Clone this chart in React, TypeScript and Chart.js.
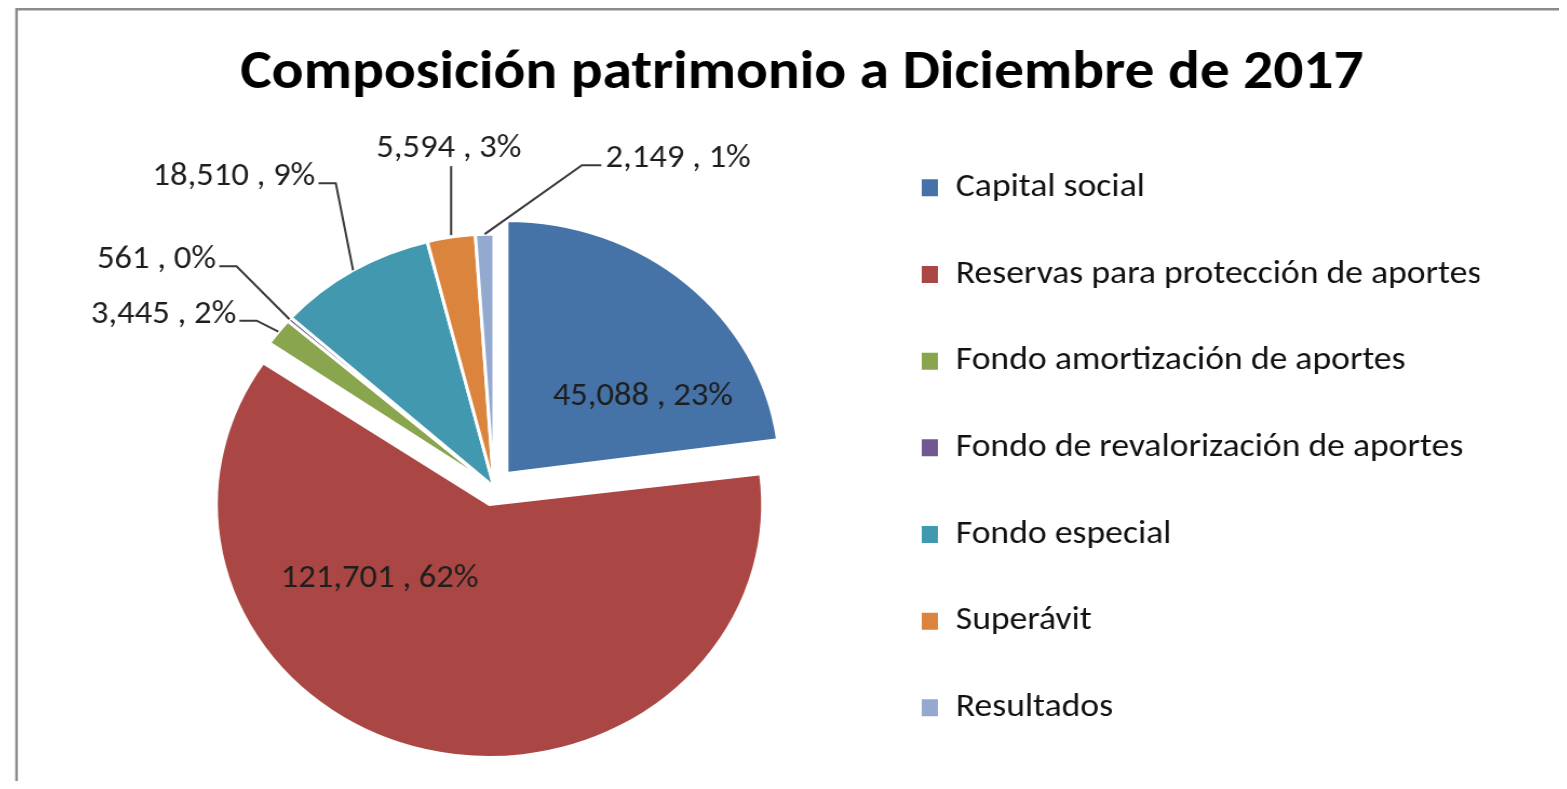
import React, { useEffect, useRef } from 'react';
import { Chart, registerables } from 'chart.js';

Chart.register(...registerables);

// ---------- data ----------
const chartTitle = 'Composición patrimonio a Diciembre de 2017';
const categories = [
  'Capital social',
  'Reservas para protección de aportes',
  'Fondo amortización de aportes',
  'Fondo de revalorización de aportes',
  'Fondo especial',
  'Superávit',
  'Resultados',
];
const values = [45088, 121701, 3445, 561, 18510, 5594, 2149];
const colors = ['#4572A7', '#AA4643', '#89A54E', '#71588F', '#4198AF', '#DB843D', '#93A9CF'];
// exploded distance (visual pixels) per slice
const explodePx = [18, 18, 0, 0, 0, 0, 0];

// ---------- label placement (layout only) ----------
type Placement =
  | { kind: 'inside'; radial: number; dx: number; dy: number }
  | { kind: 'left' | 'right' | 'top'; dx: number; dy: number };
const labelPlacement: Placement[] = [
  { kind: 'inside', radial: 0.6, dx: 26, dy: 38 },
  { kind: 'inside', radial: 0.5, dx: -72, dy: -48 },
  { kind: 'left', dx: -39, dy: -17 },
  { kind: 'left', dx: -68, dy: -59 },
  { kind: 'left', dx: -35, dy: -93 },
  { kind: 'top', dx: -2, dy: -88 },
  { kind: 'right', dx: 112, dy: -75 },
];

const FONT = 'Calibri, Carlito, Lato, "Open Sans", sans-serif';
const CANVAS_W = 1436;
const CANVAS_H = 773;
const STRETCH = 1551 / CANVAS_W;
const PIE_RADIUS = 253;
const LEGEND_FS = 33;
const LABEL_FS = 32;
const ITEM_STEP = 86.67;
const LEGEND_PAD = ITEM_STEP - LEGEND_FS;
const BOX_W = 15;
const BOX_H = 17;
const BOX_LEFT = 846;
const LEGEND_LEFT = BOX_LEFT - LEGEND_PAD;
const PIE_CX = 450;
const PAD_LEFT = 2 * PIE_CX - LEGEND_LEFT;
const TITLE_CX = 735;

const total = values.reduce((a, b) => a + b, 0);
const fmt = (v: number) => v.toLocaleString('en-US');
const labelText = (i: number) => `${fmt(values[i])} , ${Math.round((values[i] / total) * 100)}%`;

const framePlugin = {
  id: 'frame',
  beforeDraw(chart: any) {
    const ctx = chart.ctx;
    ctx.save();
    ctx.strokeStyle = '#8c8c8c';
    ctx.lineWidth = 2.4;
    ctx.beginPath();
    ctx.moveTo(7.9, chart.height);
    ctx.lineTo(7.9, 1.2);
    ctx.lineTo(chart.width, 1.2);
    ctx.stroke();
    ctx.restore();
  },
};

// keep exploded large slices at the common radius (Chart.js grows radius for wide arcs)
const explodeFixPlugin = {
  id: 'explodeFix',
  afterDatasetUpdate(chart: any, args: any) {
    const meta = args.meta;
    meta.data.forEach((arc: any, i: number) => {
      const circ = arc.endAngle - arc.startAngle;
      const fix = 1 - Math.sin(Math.min(Math.PI, circ));
      arc.outerRadius = PIE_RADIUS - explodePx[i] * fix;
    });
  },
};

const labelPlugin = {
  id: 'sliceLabels',
  afterDatasetsDraw(chart: any) {
    const ctx = chart.ctx;
    const meta = chart.getDatasetMeta(0);
    ctx.save();
    ctx.font = `${LABEL_FS}px ${FONT}`;
    ctx.fillStyle = '#1e1e1e';
    ctx.strokeStyle = '#3a3a3a';
    ctx.lineWidth = 2;
    ctx.textBaseline = 'middle';
    meta.data.forEach((arc: any, i: number) => {
      const { x, y, startAngle, endAngle } = arc.getProps(['x', 'y', 'startAngle', 'endAngle'], true);
      const mid = (startAngle + endAngle) / 2;
      const cx = x + Math.cos(mid) * explodePx[i];
      const cy = y + Math.sin(mid) * explodePx[i];
      const p = labelPlacement[i];
      const text = labelText(i);
      if (p.kind === 'inside') {
        const r = PIE_RADIUS * p.radial;
        ctx.textAlign = 'center';
        ctx.fillText(text, cx + Math.cos(mid) * r + p.dx, cy + Math.sin(mid) * r + p.dy);
        return;
      }
      const ax = cx + Math.cos(mid) * PIE_RADIUS;
      const ay = cy + Math.sin(mid) * PIE_RADIUS;
      const tx = ax + p.dx;
      const ty = ay + p.dy;
      ctx.beginPath();
      if (p.kind === 'top') {
        ctx.textAlign = 'center';
        ctx.fillText(text, tx, ty);
        ctx.moveTo(ax, ty + 17);
        ctx.lineTo(ax, ay - 2);
      } else if (p.kind === 'left') {
        ctx.textAlign = 'right';
        ctx.fillText(text, tx, ty);
        ctx.moveTo(tx + 3, ty + 6);
        ctx.lineTo(tx + 19, ty + 6);
        ctx.lineTo(ax, ay);
      } else {
        ctx.textAlign = 'left';
        ctx.fillText(text, tx, ty);
        ctx.moveTo(tx - 4, ty + 6);
        ctx.lineTo(tx - 22, ty + 6);
        ctx.lineTo(ax, ay);
      }
      ctx.stroke();
    });
    ctx.restore();
  },
};

export default function App() {
  const ref = useRef<HTMLCanvasElement>(null);

  useEffect(() => {
    const canvas = ref.current;
    if (!canvas) return;

    // legend geometry: boxes at BOX_LEFT, title centred on TITLE_CX
    const mctx = document.createElement('canvas').getContext('2d')!;
    mctx.font = `${LEGEND_FS}px ${FONT}`;
    const longest = Math.max(...categories.map((c) => mctx.measureText(c).width));
    const natural = LEGEND_PAD + BOX_W + LEGEND_FS / 2 + longest + 10;
    const titleRight = 2 * TITLE_CX - PAD_LEFT;
    const wanted = titleRight - LEGEND_LEFT;
    const legendW = Math.min(natural, wanted);
    const padRight = CANVAS_W - (LEGEND_LEFT + legendW);

    const chart = new Chart(canvas, {
      type: 'pie',
      data: {
        labels: categories,
        datasets: [
          {
            data: values,
            backgroundColor: colors,
            borderColor: '#ffffff',
            borderWidth: 3,
            offset: explodePx.map((v) => v * 4),
            radius: PIE_RADIUS,
            clip: false,
          } as any,
        ],
      },
      options: {
        responsive: true,
        maintainAspectRatio: false,
        animation: false,
        events: [],
        layout: { padding: { left: PAD_LEFT, right: padRight, top: 0, bottom: 3 } },
        plugins: {
          title: {
            display: true,
            text: chartTitle,
            color: '#000000',
            font: { family: FONT, size: 55, weight: 'bold', lineHeight: 1.2 },
            padding: { top: 33, bottom: 89 },
          },
          legend: {
            position: 'right',
            align: 'end',
            maxWidth: legendW,
            labels: {
              boxWidth: BOX_W,
              boxHeight: BOX_H,
              padding: LEGEND_PAD,
              color: '#111111',
              font: { family: FONT, size: LEGEND_FS },
              generateLabels: (ch: any) => {
                const base = (Chart as any).overrides.pie.plugins.legend.labels.generateLabels(ch);
                return base.map((it: any) => ({ ...it, lineWidth: 0, strokeStyle: 'rgba(0,0,0,0)' }));
              },
            },
          },
          tooltip: { enabled: false },
        },
      } as any,
      plugins: [framePlugin, explodeFixPlugin, labelPlugin],
    });

    return () => chart.destroy();
  }, []);

  return (
    <div
      style={{
        width: CANVAS_W,
        height: CANVAS_H,
        transform: `scaleX(${STRETCH})`,
        transformOrigin: '0 0',
        position: 'relative',
      }}
    >
      <canvas ref={ref} />
    </div>
  );
}
